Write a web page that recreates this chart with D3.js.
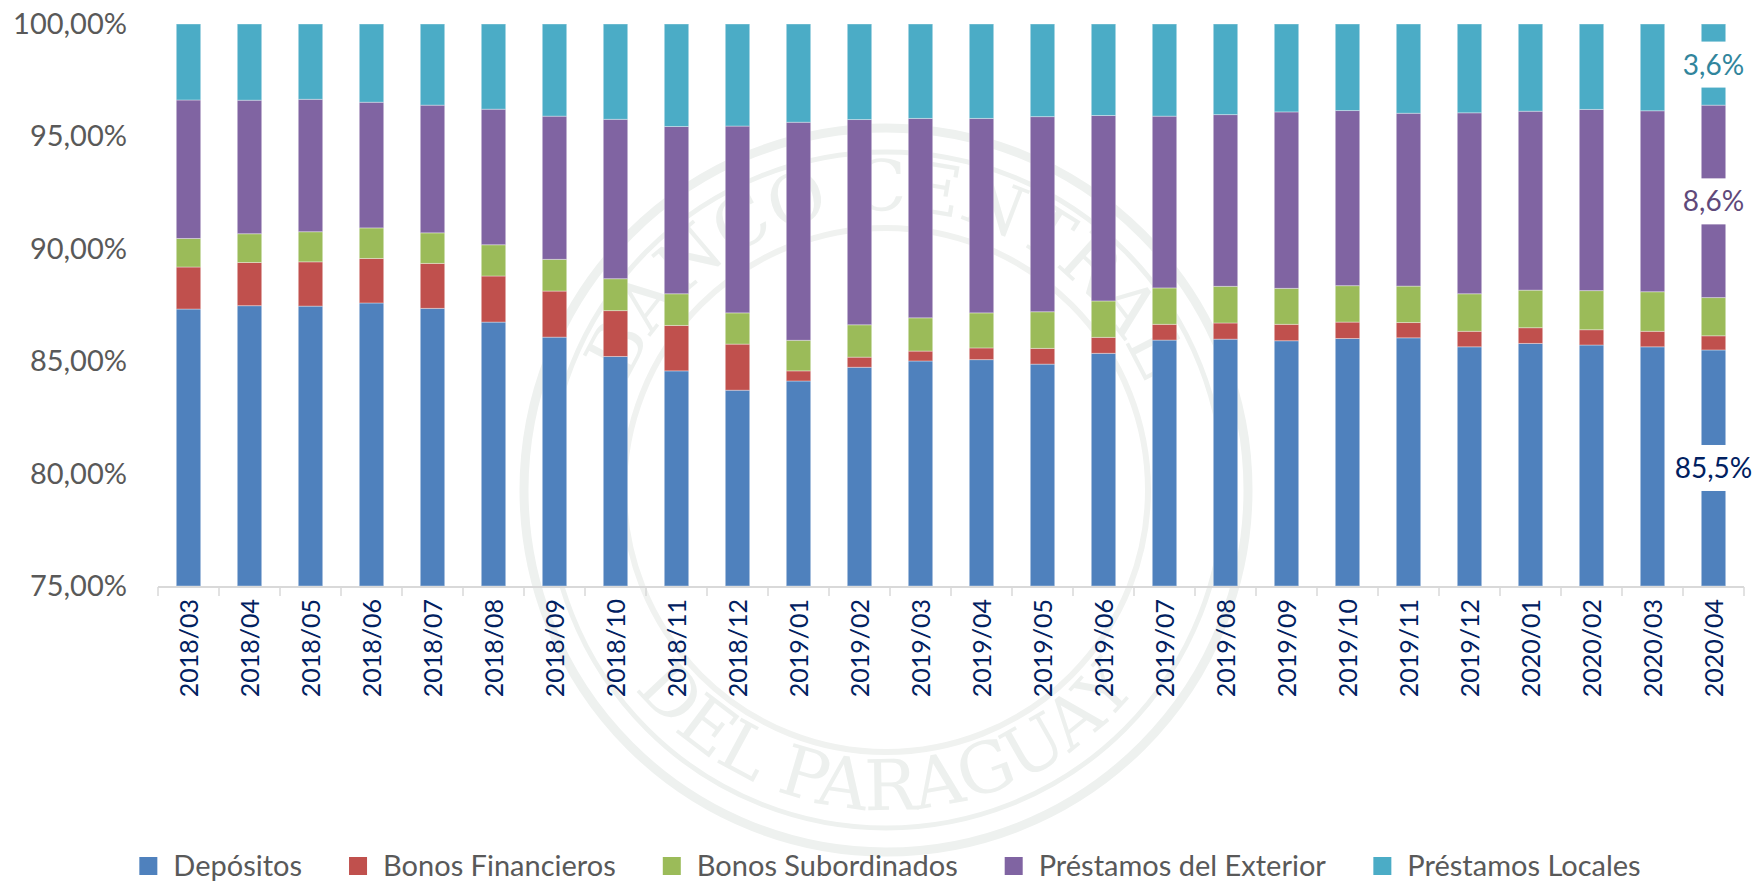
<!DOCTYPE html>
<html>
<head>
<meta charset="utf-8">
<script src="https://cdn.jsdelivr.net/npm/d3@7"></script>
<style>
  body { margin: 0; background: #fff; }
  svg { display: block; font-family: Lato, "Open Sans", sans-serif; }
</style>
</head>
<body>
<div id="chart"></div>
<script>
const months = ['2018/03','2018/04','2018/05','2018/06','2018/07','2018/08','2018/09','2018/10','2018/11','2018/12',
  '2019/01','2019/02','2019/03','2019/04','2019/05','2019/06','2019/07','2019/08','2019/09','2019/10','2019/11','2019/12',
  '2020/01','2020/02','2020/03','2020/04'];

const depositos = [87.32,87.47,87.45,87.59,87.35,86.74,86.07,85.21,84.57,83.71,84.12,84.73,85.01,85.07,84.87,85.35,85.94,85.98,85.91,86.01,86.04,85.64,85.79,85.72,85.64,85.50];
const bonosFinancieros = [1.87,1.92,1.97,1.98,2.00,2.05,2.05,2.04,2.02,2.05,0.45,0.45,0.44,0.52,0.70,0.71,0.70,0.72,0.73,0.73,0.68,0.69,0.70,0.68,0.69,0.63];
const bonosSubordinados = [1.27,1.28,1.34,1.36,1.36,1.39,1.41,1.42,1.41,1.39,1.36,1.44,1.48,1.56,1.63,1.62,1.62,1.63,1.60,1.62,1.62,1.67,1.67,1.74,1.76,1.70];
const prestamosExterior = [6.16,5.94,5.89,5.59,5.68,6.03,6.37,7.09,7.44,8.31,9.70,9.13,8.87,8.65,8.68,8.25,7.64,7.64,7.85,7.79,7.69,8.05,7.96,8.06,8.05,8.56];
const prestamosLocales = [3.38,3.39,3.35,3.48,3.61,3.79,4.10,4.24,4.56,4.54,4.37,4.25,4.20,4.20,4.12,4.07,4.10,4.03,3.91,3.85,3.97,3.95,3.88,3.80,3.86,3.61];

const seriesNames = ['Depósitos','Bonos Financieros','Bonos Subordinados','Préstamos del Exterior','Préstamos Locales'];
const seriesColors = ['#4F81BD','#C0504D','#9BBB59','#8064A2','#4BACC6'];
const labelColors = ['#002060', null, null, '#5F497A', '#31859C'];
const yTicks = [75, 80, 85, 90, 95, 100];

const W = 1756, H = 884;
const rows = months.map((m, i) => ({
  month: m,
  'Depósitos': depositos[i],
  'Bonos Financieros': bonosFinancieros[i],
  'Bonos Subordinados': bonosSubordinados[i],
  'Préstamos del Exterior': prestamosExterior[i],
  'Préstamos Locales': prestamosLocales[i]
}));

const locale = d3.formatLocale({ decimal: ',', thousands: '.', grouping: [3], currency: ['', ''] });
const fmtAxis = v => locale.format('.2f')(v) + '%';
const fmtLabel = v => locale.format('.1f')(v) + '%';

const svg = d3.select('#chart').append('svg').attr('width', W).attr('height', H);
svg.append('rect').attr('width', W).attr('height', H).attr('fill', '#fff');

// faint seal watermark in the background
const seal = svg.append('g').attr('transform', 'translate(886,490)').attr('fill', 'none');
seal.append('circle').attr('r', 362).attr('stroke', '#eef1ef').attr('stroke-width', 9);
seal.append('circle').attr('r', 338).attr('stroke', '#eef1ef').attr('stroke-width', 5);
seal.append('circle').attr('r', 262).attr('stroke', '#f0f2f0').attr('stroke-width', 6);
seal.append('path').attr('id', 'arcTop').attr('d', 'M -280 0 A 280 280 0 0 1 280 0');
seal.append('path').attr('id', 'arcBot').attr('d', 'M -320 0 A 320 320 0 0 0 320 0');
seal.append('text').attr('fill', '#edf0ee').style('font-family', '"DejaVu Serif", serif').style('font-size', '70px')
  .append('textPath').attr('href', '#arcTop').attr('startOffset', '50%').attr('text-anchor', 'middle').text('BANCO CENTRAL');
seal.append('text').attr('fill', '#edf0ee').style('font-family', '"DejaVu Serif", serif').style('font-size', '70px')
  .append('textPath').attr('href', '#arcBot').attr('startOffset', '50%').attr('text-anchor', 'middle').text('DEL PARAGUAY');

const x = d3.scaleBand().domain(months).range([158, 1744]).paddingInner(0.6).paddingOuter(0.3);
const y = d3.scaleLinear().domain([75, 100]).range([586, 24]).clamp(true);

const stacked = d3.stack().keys(seriesNames)(rows);

const layers = svg.append('g').selectAll('g').data(stacked).join('g')
  .attr('fill', (d, i) => seriesColors[i]);
layers.selectAll('rect').data(d => d).join('rect')
  .attr('x', d => x(d.data.month))
  .attr('width', x.bandwidth())
  .attr('y', d => y(d[1]))
  .attr('height', d => Math.max(0, y(d[0]) - y(d[1])))
  .attr('stroke', '#ffffff').attr('stroke-opacity', 0.35).attr('stroke-width', 1);

// x axis line and ticks at band boundaries
const axisG = svg.append('g');
axisG.append('line').attr('x1', 158).attr('x2', 1744).attr('y1', 587).attr('y2', 587)
  .attr('stroke', '#d9d9d9').attr('stroke-width', 2);
const bounds = months.map(m => x(m) - x.step() * 0.3).concat([x(months[months.length - 1]) + x.step() * 0.7]);
axisG.selectAll('line.tick').data(bounds).join('line').attr('class', 'tick')
  .attr('x1', d => d).attr('x2', d => d).attr('y1', 587).attr('y2', 596)
  .attr('stroke', '#d9d9d9').attr('stroke-width', 1.5);
axisG.selectAll('text').data(months).join('text')
  .attr('transform', d => `translate(${x(d) + x.bandwidth() / 2 + 9},599) rotate(-90)`)
  .attr('text-anchor', 'end')
  .attr('fill', '#002060')
  .style('font-size', '25px')
  .text(d => d);

// y axis labels
svg.append('g').selectAll('text').data(yTicks).join('text')
  .attr('x', 127).attr('y', d => y(d) + 10)
  .attr('text-anchor', 'end')
  .attr('fill', '#595959')
  .style('font-size', '29px')
  .text(fmtAxis);

// data labels on the last bar
const lastIdx = months.length - 1;
const labelLayer = svg.append('g');
stacked.forEach((s, i) => {
  if (!labelColors[i]) return;
  const d = s[lastIdx];
  const cy = (y(d[0]) + y(d[1])) / 2;
  const cx = x(months[lastIdx]) + x.bandwidth() / 2;
  const g = labelLayer.append('g');
  const t = g.append('text').attr('x', cx).attr('y', cy + 10)
    .attr('text-anchor', 'middle').attr('fill', labelColors[i])
    .style('font-size', '28px').text(fmtLabel(d[1] - d[0]));
  const bb = t.node().getBBox();
  g.insert('rect', 'text').attr('x', bb.x - 8).attr('y', cy - 23).attr('width', bb.width + 16).attr('height', 46).attr('fill', '#fff');
});

// legend
const legend = svg.append('g');
let lx = 0;
const items = legend.selectAll('g').data(seriesNames).join('g');
items.append('rect').attr('y', 857).attr('width', 18).attr('height', 18).attr('fill', (d, i) => seriesColors[i]);
items.append('text').attr('x', 34).attr('y', 876).attr('fill', '#595959').style('font-size', '29px').text(d => d);
items.each(function () {
  const g = d3.select(this);
  g.attr('transform', `translate(${lx},0)`);
  lx += this.getBBox().width + 47;
});
const legendW = lx - 47;
legend.attr('transform', `translate(${890 - legendW / 2},0)`);
</script>
</body>
</html>
